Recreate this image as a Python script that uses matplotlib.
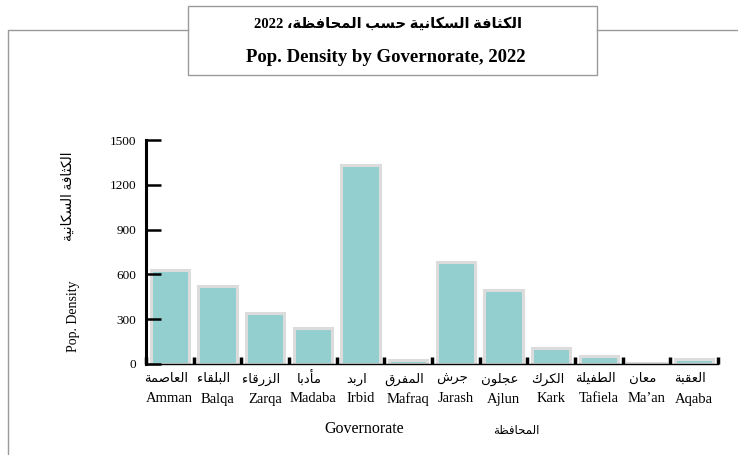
import matplotlib
matplotlib.use('Agg')
import matplotlib.pyplot as plt
import matplotlib.transforms as mtrans
from matplotlib.lines import Line2D
from matplotlib.patches import Rectangle

# data
names_en = ['Amman', 'Balqa', 'Zarqa', 'Madaba', 'Irbid', 'Mafraq',
            'Jarash', 'Ajlun', 'Kark', 'Tafiela', "Ma\u2019an", 'Aqaba']
names_ar = ['العاصمة', 'البلقاء', 'الزرقاء', 'مأدبا', 'اربد', 'المفرق',
            'جرش', 'عجلون', 'الكرك', 'الطفيلة', 'معان', 'العقبة']
density = [628, 522, 342, 240, 1332, 25, 686, 498, 108, 55, 6, 35]
y_ticks = [0, 300, 600, 900, 1200, 1500]

# --- tiny arabic shaper (matplotlib has no shaping / bidi) ---
# char: (first presentation form, dual joining?)
FORMS = {
    'ء': (0xFE80, None), 'أ': (0xFE83, False), 'ا': (0xFE8D, False),
    'ب': (0xFE8F, True), 'ة': (0xFE93, False), 'ت': (0xFE95, True),
    'ث': (0xFE99, True), 'ج': (0xFE9D, True), 'ح': (0xFEA1, True),
    'خ': (0xFEA5, True), 'د': (0xFEA9, False), 'ذ': (0xFEAB, False),
    'ر': (0xFEAD, False), 'ز': (0xFEAF, False), 'س': (0xFEB1, True),
    'ش': (0xFEB5, True), 'ص': (0xFEB9, True), 'ض': (0xFEBD, True),
    'ط': (0xFEC1, True), 'ظ': (0xFEC5, True), 'ع': (0xFEC9, True),
    'غ': (0xFECD, True), 'ف': (0xFED1, True), 'ق': (0xFED5, True),
    'ك': (0xFED9, True), 'ل': (0xFEDD, True), 'م': (0xFEE1, True),
    'ن': (0xFEE5, True), 'ه': (0xFEE9, True), 'و': (0xFEED, False),
    'ى': (0xFEEF, False), 'ي': (0xFEF1, True),
}
LAM_ALEF = {'ا': 0xFEFB, 'أ': 0xFEF7}


def shape(text):
    out = []
    i = 0
    n = len(text)
    while i < n:
        ch = text[i]
        if ch not in FORMS:
            out.append(ch)
            i += 1
            continue
        prev = text[i - 1] if i > 0 else ''
        join_prev = prev in FORMS and FORMS[prev][1] is True
        if ch == 'ل' and i + 1 < n and text[i + 1] in LAM_ALEF:
            out.append(chr(LAM_ALEF[text[i + 1]] + (1 if join_prev else 0)))
            i += 2
            continue
        base, dual = FORMS[ch]
        nxt = text[i + 1] if i + 1 < n else ''
        join_next = dual is True and nxt in FORMS and FORMS[nxt][1] is not None
        if dual is None:
            form = 0
        elif join_prev and join_next:
            form = 3
        elif join_next:
            form = 2
        elif join_prev:
            form = 1
        else:
            form = 0
        out.append(chr(base + form))
        i += 1
    # visual order: reverse, but keep digit runs left to right
    vis = ''.join(out)[::-1]
    res, run = '', ''
    for c in vis:
        if c.isdigit():
            run += c
        else:
            res += run[::-1] + c
            run = ''
    return res + run[::-1]


FAM = ['Liberation Serif', 'DejaVu Sans']
plt.rcParams['font.family'] = FAM

fig = plt.figure(figsize=(7.38, 4.55), dpi=100)
ax = fig.add_axes([146 / 738, 1 - 364 / 455, (718 - 146) / 738, 224 / 455])

x = list(range(len(density)))
ax.bar(x, density, width=0.8, color='#93cfcf', edgecolor='#dcdcdc', linewidth=2.2)

ax.set_xlim(-0.5, len(density) - 0.5)
ax.set_ylim(0, 1500)
ax.set_yticks(y_ticks)
ax.set_yticklabels([str(v) for v in y_ticks], fontsize=9.5)
ax.tick_params(axis='y', direction='in', length=11, width=1.8, pad=7)

ax.set_xticks(x)
ax.set_xticklabels([])
ax.tick_params(axis='x', length=0)
ax.set_xticks([i - 0.5 for i in range(len(density) + 1)], minor=True)
ax.tick_params(axis='x', which='minor', direction='in', length=5, width=2.5)

# two rows of category labels
tr = mtrans.blended_transform_factory(ax.transData, fig.transFigure)
for i, (a, e) in enumerate(zip(names_ar, names_en)):
    ax.text(i - 0.08, 1 - 379 / 455, shape(a), transform=tr, ha='center', va='center',
            fontsize=9.5)
    ax.text(i, 1 - 399 / 455, e, transform=tr, ha='center', va='center', fontsize=10.5)

for s in ['top', 'right']:
    ax.spines[s].set_visible(False)
ax.spines['left'].set_linewidth(2.2)
ax.spines['bottom'].set_linewidth(1.0)

# axis titles
fig.text(364 / 738, 1 - 429 / 455, 'Governorate', ha='center', va='center', fontsize=11.5)
fig.text(516 / 738, 1 - 431 / 455, shape('المحافظة'), ha='center', va='center', fontsize=8.5)
fig.text(74 / 738, 1 - 316 / 455, 'Pop. Density', ha='center', va='center',
         rotation=90, fontsize=10)
fig.text(68 / 738, 1 - 196 / 455, shape('الكثافة السكانية'), ha='center', va='center',
         rotation=90, fontsize=10)

# frame and title box
grey = '#9a9a9a'
fig.add_artist(Line2D([8 / 738, 8 / 738, 188 / 738], [0, 1 - 30 / 455, 1 - 30 / 455],
                      color=grey, lw=1.0))
fig.add_artist(Line2D([597 / 738, 1], [1 - 30 / 455, 1 - 30 / 455], color=grey, lw=1.0))
fig.add_artist(Rectangle((188 / 738, 1 - 75 / 455), (597 - 188) / 738, 69 / 455,
                         transform=fig.transFigure, facecolor='white',
                         edgecolor=grey, lw=1.0))
fig.text(388 / 738, 1 - 24 / 455, '2022 ' + shape('الكثافة السكانية حسب المحافظة،'),
         ha='center', va='center', fontsize=10.5, fontweight='bold')
fig.text(386 / 738, 1 - 57 / 455, 'Pop. Density by Governorate, 2022',
         ha='center', va='center', fontsize=13.5, fontweight='bold')

fig.savefig('out.png', dpi=100)
